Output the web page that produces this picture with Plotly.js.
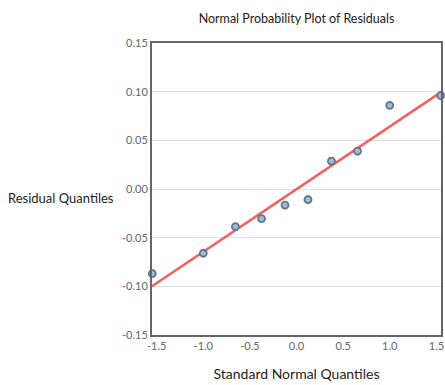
<!DOCTYPE html>
<html>
<head>
<meta charset="utf-8">
<script src="https://cdn.plot.ly/plotly-3.0.1.min.js"></script>
<style>html,body{margin:0;padding:0;background:#fff;}#chart{width:445px;height:385px;}</style>
</head>
<body>
<div id="chart"></div>
<script>
var theoreticalQuantiles = [-1.547, -1.0, -0.655, -0.375, -0.123, 0.123, 0.375, 0.655, 1.0, 1.547];
var residualQuantiles = [-0.087, -0.066, -0.0387, -0.0305, -0.0165, -0.011, 0.0286, 0.039, 0.086, 0.096];
var fitLineX = [-1.55, 1.55];
var fitLineY = [-0.1, 0.0995];
var yTickVals = [-0.15, -0.10, -0.05, 0.00, 0.05, 0.10, 0.15];
var yTickText = ["-0.15", "-0.10", "-0.05", "0.00", "0.05", "0.10", "0.15"];
var xTickVals = [-1.5, -1.0, -0.5, 0.0, 0.5, 1.0, 1.5];
var xTickText = ["-1.5", "-1.0", "-0.5", "0.0", "0.5", "1.0", "1.5"];

var font = "Lato, 'Open Sans', sans-serif";

var traces = [
  {
    x: fitLineX, y: fitLineY, type: 'scatter', mode: 'lines',
    line: {color: 'rgba(240,80,80,0.9)', width: 2.5},
    hoverinfo: 'skip', showlegend: false, cliponaxis: true
  },
  {
    x: theoreticalQuantiles, y: residualQuantiles, type: 'scatter', mode: 'markers',
    marker: {size: 7, color: '#9bbdd6', line: {color: '#5f7788', width: 1.8}},
    showlegend: false, cliponaxis: false
  }
];

var layout = {
  width: 445, height: 385,
  margin: {l: 152, r: 4, t: 43, b: 50},
  paper_bgcolor: '#fff', plot_bgcolor: '#fff',
  font: {family: font, color: '#555', size: 11},
  title: {text: 'Normal Probability Plot of Residuals', font: {family: font, size: 12.5, color: '#222'},
          x: 0.5, xref: 'paper', y: 0.952, yref: 'container', yanchor: 'middle'},
  xaxis: {
    range: [-1.55, 1.55], tickvals: xTickVals, ticktext: xTickText,
    showgrid: false, zeroline: false, showline: true, linecolor: '#666', linewidth: 2, mirror: true,
    ticks: '', tickfont: {family: font, size: 11, color: '#666'},
    title: {text: 'Standard Normal Quantiles', font: {family: font, size: 14, color: '#222'}, standoff: 18}
  },
  yaxis: {
    range: [-0.15, 0.15], tickvals: yTickVals, ticktext: yTickText,
    showgrid: true, gridcolor: '#e0e0e0', gridwidth: 1, zeroline: false,
    showline: true, linecolor: '#666', linewidth: 2, mirror: true,
    ticks: '', tickfont: {family: font, size: 11, color: '#666'}
  },
  annotations: [{
    text: 'Residual Quantiles', xref: 'paper', yref: 'paper', x: -0.315, y: 0.47,
    xanchor: 'center', yanchor: 'middle', showarrow: false,
    font: {family: font, size: 13, color: '#222'}
  }]
};

Plotly.newPlot('chart', traces, layout, {displayModeBar: false, staticPlot: true});
</script>
</body>
</html>
